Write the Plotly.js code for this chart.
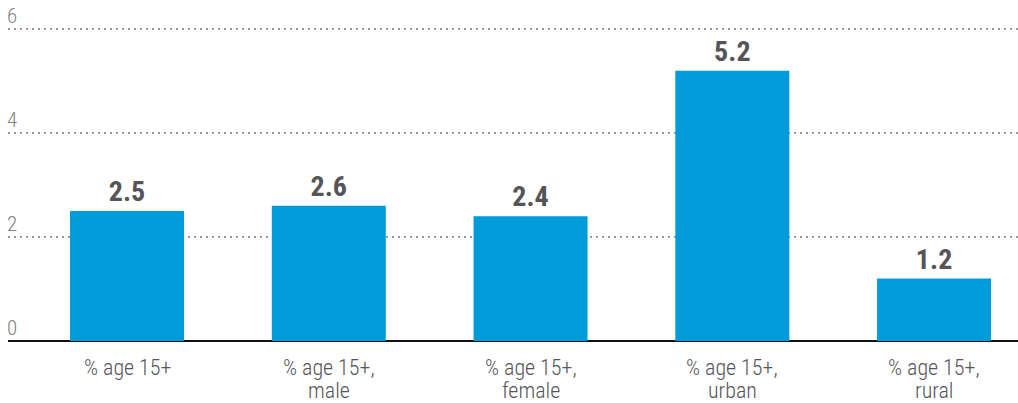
<!DOCTYPE html>
<html><head><meta charset="utf-8">
<script src="https://cdn.plot.ly/plotly-3.0.1.min.js"></script>
<style>body{margin:0;padding:0;}#c{width:1018px;height:403px;}</style>
</head><body><div id="c"></div>
<script>
const categories = ["% age 15+", "% age 15+,<br>male", "% age 15+,<br>female", "% age 15+,<br>urban", "% age 15+,<br>rural"];
const values = [2.5, 2.6, 2.4, 5.2, 1.2];
const yTicks = [0, 2, 4, 6];
const FONT = "'Roboto Condensed', 'Liberation Sans Narrow', 'Roboto', sans-serif";
const xs = categories.map((c, i) => i);

const trace = {
  type: 'bar',
  x: xs,
  y: values,
  marker: {color: '#009CDA'},
  width: 0.565,
  text: values.map(v => '<b>' + v.toFixed(1) + '</b>'),
  textposition: 'outside',
  textfont: {family: FONT, size: 28, color: '#555559'},
  cliponaxis: false,
  hoverinfo: 'none'
};

const annotations = yTicks.map(t => ({
  xref: 'paper', yref: 'y', x: 0, y: t, xanchor: 'left', yanchor: 'bottom',
  text: String(t), showarrow: false, xshift: -3, yshift: -1,
  font: {family: FONT, size: 21, color: '#808084', weight: 300}
}));

categories.forEach((c, i) => {
  c.split('<br>').forEach((line, j) => {
    annotations.push({
      xref: 'x', yref: 'paper', x: xs[i], y: 0, xanchor: 'center', yanchor: 'middle',
      yshift: -26 - 23 * j, text: line, showarrow: false,
      font: {family: FONT, size: 22, color: '#555559', weight: 300}
    });
  });
});

const layout = {
  width: 1018, height: 403,
  margin: {l: 8, r: 0, t: 0, b: 62},
  paper_bgcolor: '#fff', plot_bgcolor: '#fff',
  showlegend: false,
  xaxis: {
    range: [-0.59, 4.416],
    tickvals: xs, showticklabels: false,
    showgrid: false, zeroline: false, ticks: '', showline: false, fixedrange: true
  },
  yaxis: {
    range: [0, 6.56],
    tickvals: yTicks, showticklabels: false,
    showgrid: true, gridcolor: '#9a9a9a', griddash: '2px,4px', gridwidth: 2,
    zeroline: true, zerolinecolor: '#111', zerolinewidth: 2.5, fixedrange: true
  },
  annotations: annotations
};
Plotly.newPlot('c', [trace], layout, {displayModeBar: false, staticPlot: true});
</script></body></html>
